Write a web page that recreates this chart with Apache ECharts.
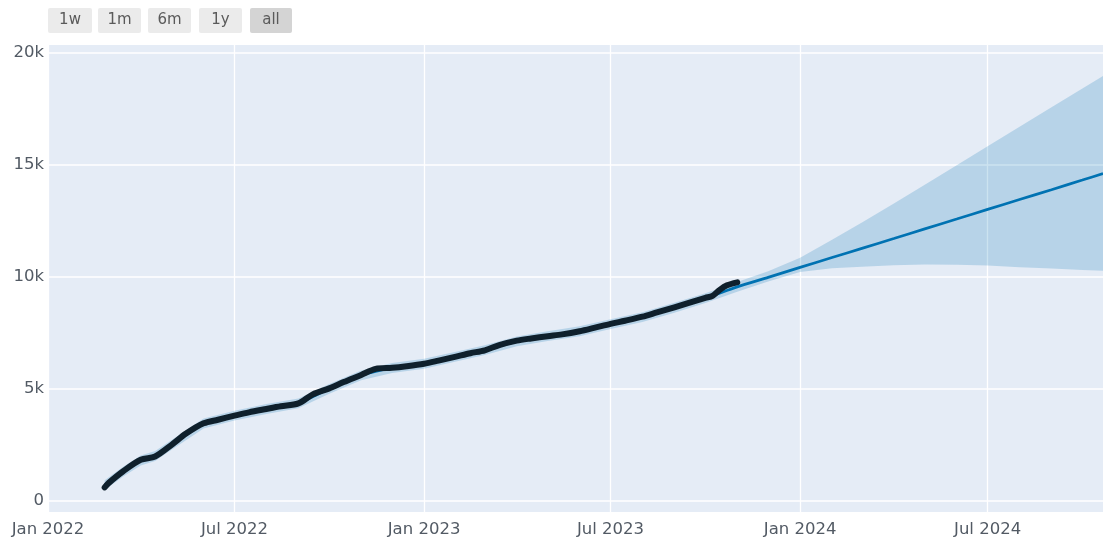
<!DOCTYPE html>
<html>
<head>
<meta charset="utf-8">
<script src="https://cdn.jsdelivr.net/npm/echarts@6/dist/echarts.min.js"></script>
<style>
html,body{margin:0;padding:0;background:#fff;}
#chart{width:1103px;height:542px;}
</style>
</head>
<body>
<div id="chart"></div>
<script>
// ---- data ----
const actualDates = ['2022-02-25','2022-03-01','2022-03-15','2022-04-01','2022-04-15','2022-05-01','2022-05-15','2022-06-01','2022-06-15','2022-07-01','2022-07-15','2022-08-01','2022-08-15','2022-09-01','2022-09-15','2022-10-01','2022-10-15','2022-11-01','2022-11-15','2022-12-01','2022-12-15','2023-01-01','2023-01-15','2023-02-01','2023-02-15','2023-03-01','2023-03-15','2023-04-01','2023-04-15','2023-05-01','2023-05-15','2023-06-01','2023-06-15','2023-07-01','2023-07-15','2023-08-01','2023-08-15','2023-09-01','2023-09-15','2023-10-01','2023-10-08','2023-10-15','2023-10-22','2023-11-01'];
const actualValues = [600,800,1320,1830,1980,2500,3000,3460,3620,3800,3950,4100,4220,4350,4750,5020,5300,5620,5890,5940,6010,6120,6260,6440,6590,6720,6950,7150,7250,7350,7430,7570,7720,7900,8040,8220,8410,8640,8840,9060,9150,9420,9620,9750];

const fcDates = ['2022-02-25','2022-03-15','2022-04-01','2022-04-15','2022-05-01','2022-06-01','2022-07-01','2022-08-01','2022-09-01','2022-10-01','2022-11-01','2022-12-01','2023-01-01','2023-02-01','2023-03-01','2023-04-01','2023-05-01','2023-06-01','2023-07-01','2023-08-01','2023-09-01','2023-10-01','2023-11-01','2023-12-01','2024-01-01','2024-02-01','2024-03-01','2024-04-01','2024-05-01','2024-06-01','2024-07-01','2024-08-01','2024-09-01','2024-10-01','2024-10-21'];
const fcYhat  = [700,1300,1800,2000,2500,3450,3800,4100,4350,5000,5600,5930,6120,6440,6730,7120,7350,7570,7890,8200,8620,9050,9550,9975,10420,10860,11270,11710,12140,12580,13010,13450,13890,14320,14610];
const fcLower = [480,1080,1580,1780,2280,3230,3580,3880,4130,4780,5380,5710,5900,6220,6510,6900,7130,7350,7670,7980,8400,8830,9330,9790,10220,10380,10450,10520,10550,10540,10500,10430,10370,10310,10270];
const fcUpper = [920,1520,2020,2220,2720,3670,4020,4320,4570,5220,5820,6150,6340,6660,6950,7340,7570,7790,8110,8420,8840,9270,9770,10250,10850,11650,12420,13270,14110,14980,15830,16700,17570,18410,18970];

const xMin = '2022-01-01';
const xMax = '2024-10-21';
const xTickDates  = ['2022-01-01','2022-07-01','2023-01-01','2023-07-01','2024-01-01','2024-07-01'];
const xTickLabels = ['Jan 2022','Jul 2022','Jan 2023','Jul 2023','Jan 2024','Jul 2024'];
const yTickValues = [0,5000,10000,15000,20000];
const yTickLabels = ['0','5k','10k','15k','20k'];
const buttonLabels = ['1w','1m','6m','1y','all'];
const activeButton = 'all';

// ---- build ----
const P = s => +echarts.time.parse(s);
const xTickTs = xTickDates.map(P);
const FONT = 'DejaVu Sans';
const FS = 16.5;
const TXT = '#525a64';

const actualData = actualDates.map((d,i)=>[P(d), actualValues[i]]);
const yhatData = fcDates.map((d,i)=>[P(d), fcYhat[i]]);
const bandData = fcDates.map((d,i)=>[P(d), fcLower[i], fcUpper[i]]);

const btnPos = [[48,44],[98,43],[148,43],[199,43],[250,42]];
const buttons = buttonLabels.map((t,i)=>({
  type:'group', left: btnPos[i][0], top: 8,
  children:[
    {type:'rect', shape:{x:0,y:0,width:btnPos[i][1],height:25,r:2},
     style:{fill: t===activeButton ? '#d4d4d4' : '#ebebeb'}},
    {type:'text', x: btnPos[i][1]/2, y: 12.5,
     style:{text:t, fill:'#5a5a5a', font: `${FS-1.5}px "${FONT}"`, align:'center', verticalAlign:'middle'}}
  ]
}));

function renderBand(params, api){
  if (params.dataIndex !== 0) return null;
  const top = bandData.map(d => api.coord([d[0], d[2]]));
  const bot = bandData.map(d => api.coord([d[0], d[1]])).reverse();
  return {
    type:'polygon',
    shape:{points: top.concat(bot)},
    style:{fill:'rgba(0,114,178,0.2)', stroke:'none'}
  };
}

const chart = echarts.init(document.getElementById('chart'), null, {renderer:'canvas'});
chart.setOption({
  animation:false,
  backgroundColor:'#ffffff',
  graphic: buttons,
  grid:{left:48, right:0, top:45, bottom:30, show:true, backgroundColor:'#e5ecf6', borderWidth:0},
  xAxis:{
    type:'value', min:P(xMin), max:P(xMax),
    axisLine:{show:false},
    axisTick:{show:false, customValues:xTickTs},
    axisLabel:{customValues:xTickTs, color:TXT, fontFamily:FONT, fontSize:FS, margin:9,
      formatter:(v)=>{const k=xTickTs.indexOf(+v); return k>=0?xTickLabels[k]:'';}},
    splitLine:{show:true, lineStyle:{color:'#ffffff', width:1.3}}
  },
  yAxis:{
    type:'value', min:-500, max:20350,
    axisLine:{show:false},
    axisTick:{show:false, customValues:yTickValues},
    axisLabel:{customValues:yTickValues, color:TXT, fontFamily:FONT, fontSize:FS, margin:4,
      formatter:(v)=>{const k=yTickValues.indexOf(+v); return k>=0?yTickLabels[k]:'';}},
    splitLine:{show:true, lineStyle:{color:'#ffffff', width:1.6}}
  },
  series:[
    {type:'custom', name:'band', data:bandData, renderItem:renderBand,
     encode:{x:0, y:[1,2]}, clip:true, z:1},
    {type:'line', name:'yhat', data:yhatData, symbol:'none', smooth:0.2,
     lineStyle:{color:'#0072B2', width:2.7}, z:2},
    {type:'line', name:'actual', data:actualData, symbol:'none', smooth:0.3,
     lineStyle:{color:'#0f202c', width:6, cap:'round', join:'round'}, z:3}
  ]
});
</script>
</body>
</html>
